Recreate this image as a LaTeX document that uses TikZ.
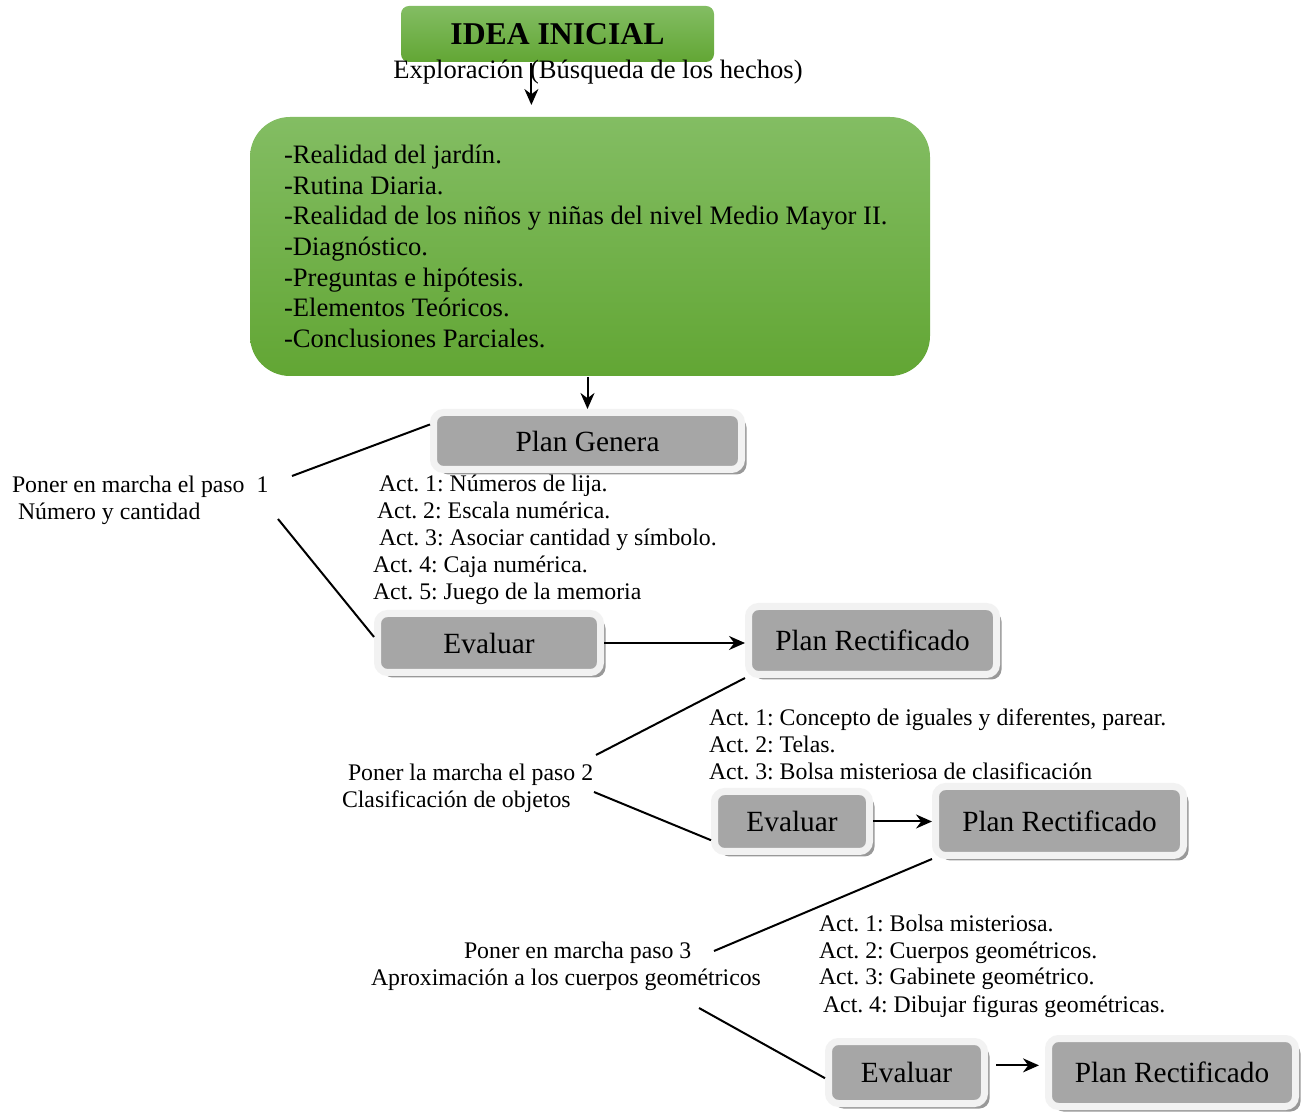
\documentclass[tikz,border=0pt]{standalone}
\usepackage{fontspec}
\setmainfont{Liberation Serif}
\usetikzlibrary{arrows.meta,shadows}
\frenchspacing

\definecolor{verdeclaro}{RGB}{131,189,99}
\definecolor{verdeoscuro}{RGB}{98,166,52}
\definecolor{grisplan}{RGB}{166,166,166}
\definecolor{grismarco}{RGB}{242,242,242}

\begin{document}
\begin{tikzpicture}[x=0.5pt, y=-0.5pt, >={Stealth[length=8pt,width=7pt]}, line width=1pt,
    verde/.style={top color=verdeclaro, bottom color=verdeoscuro, draw=none},
    plan/.style={fill=grisplan, draw=grismarco, line width=3.5pt, rounded corners=5pt,
        drop shadow={shadow xshift=2.5pt, shadow yshift=-2.5pt, fill=black!40, opacity=1},
        inner sep=0pt, font=\fontsize{14.65}{16}\selectfont},
    lista/.style={anchor=base west, align=left, inner sep=0pt, font=\fontsize{11.9}{13.5}\selectfont}]

        \useasboundingbox (0,0) rectangle (1303,1112);

        % Caja IDEA INICIAL
        \node[verde, rounded corners=4pt, minimum width=156.5pt, minimum height=28pt,
            font=\fontsize{15.85}{18}\selectfont\bfseries] (idea) at (557.5,34) {\raisebox{-2pt}{IDEA INICIAL}};

        % Caja verde (exploracion)
        \node[verde, rounded corners=20pt, minimum width=340pt, minimum height=129.5pt] (realidad) at (590,246.5) {};
        \node[anchor=west, align=left, inner sep=0pt, font=\fontsize{13.3}{15.35}\selectfont] (hechos) at (283,246.5) {
            -Realidad del jardín.\\
            -Rutina Diaria.\\
            -Realidad de los niños y niñas del nivel Medio Mayor II.\\
            -Diagnóstico.\\
            -Preguntas e hipótesis.\\
            -Elementos Teóricos.\\
            -Conclusiones Parciales.
        };

        % Paso 1
        \node[plan, minimum width=154pt, minimum height=28.5pt] (plangen) at (587.5,441) {\raisebox{-1pt}{Plan Genera}};
        \node[lista] (paso1) at (11,520) {Poner en marcha el paso\ \ 1\\ \hspace*{3pt}Número y cantidad};
        \node[lista] (acts1) at (372,600) {
            \hspace*{3pt}Act. 1: Números de lija.\\
            \hspace*{2pt}Act. 2: Escala numérica.\\
            \hspace*{3pt}Act. 3: Asociar cantidad y símbolo.\\
            Act. 4: Caja numérica.\\
            Act. 5: Juego de la memoria
        };
        \node[plan, minimum width=111.5pt, minimum height=29.5pt] (evaluar1) at (489,643) {Evaluar};
        \node[plan, minimum width=124pt, minimum height=34pt] (rectif1) at (872.5,640.5) {Plan Rectificado};

        % Paso 2
        \node[lista] (paso2) at (341,808) {\hspace*{3pt}Poner la marcha el paso 2\\ Clasificación de objetos};
        \node[lista] (acts2) at (708,780) {
            Act. 1: Concepto de iguales y diferentes, parear.\\
            Act. 2: Telas.\\
            Act. 3: Bolsa misteriosa de clasificación
        };
        \node[plan, minimum width=77.5pt, minimum height=30pt] (evaluar2) at (792,821.5) {Evaluar};
        \node[plan, minimum width=124pt, minimum height=34.5pt] (rectif2) at (1059.5,821) {Plan Rectificado};

        % Paso 3
        \node[lista] (paso3) at (370,986) {\hspace*{46.5pt}Poner en marcha paso 3\\ Aproximación a los cuerpos geométricos};
        \node[lista] (acts3) at (818,1012) {
            Act. 1: Bolsa misteriosa.\\
            Act. 2: Cuerpos geométricos.\\
            Act. 3: Gabinete geométrico.\\
            \hspace*{2pt}Act. 4: Dibujar figuras geométricas.
        };
        \node[plan, minimum width=78pt, minimum height=31pt] (evaluar3) at (906.5,1072.5) {Evaluar};
        \node[plan, minimum width=123.5pt, minimum height=34pt] (rectif3) at (1172,1072.5) {Plan Rectificado};

        % puntos libres de las lineas
        \coordinate (p1a) at (292,476);
        \coordinate (p1b) at (278,519);
        \coordinate (p2a) at (596,755);
        \coordinate (p2b) at (594,792);
        \coordinate (p3a) at (714,951);
        \coordinate (p3b) at (699,1008);

        % ========================================================
        % FLECHAS Y LINEAS
        % ========================================================

        % IDEA INICIAL -> caja verde
        \draw[->, shorten >=5.5pt] (idea.228) -- (idea.228 |- realidad.north);
        \node[inner sep=0pt, font=\fontsize{13.3}{15}\selectfont] (explora) at (598,72) {Exploración (Búsqueda de los hechos)};

        % caja verde -> Plan Genera
        \draw[->] (realidad.south -| plangen.north) -- (plangen.north);

        % Paso 1
        \draw (p1a) -- (plangen.174);
        \draw (p1b) -- (evaluar1.177);
        \draw[->] (evaluar1.east) -- (evaluar1.east -| rectif1.west);

        % Paso 2
        \draw (p2a) -- (rectif1.south west);
        \draw (p2b) -- (evaluar2.193);
        \draw[->] (evaluar2.east) -- (evaluar2.east -| rectif2.west);

        % Paso 3
        \draw (p3a) -- (rectif2.south west);
        \draw (p3b) -- (evaluar3.184);
        \draw[->, shorten <=4pt, shorten >=3pt] (evaluar3.5) -- (evaluar3.5 -| rectif3.west);

    \end{tikzpicture}
\end{document}
